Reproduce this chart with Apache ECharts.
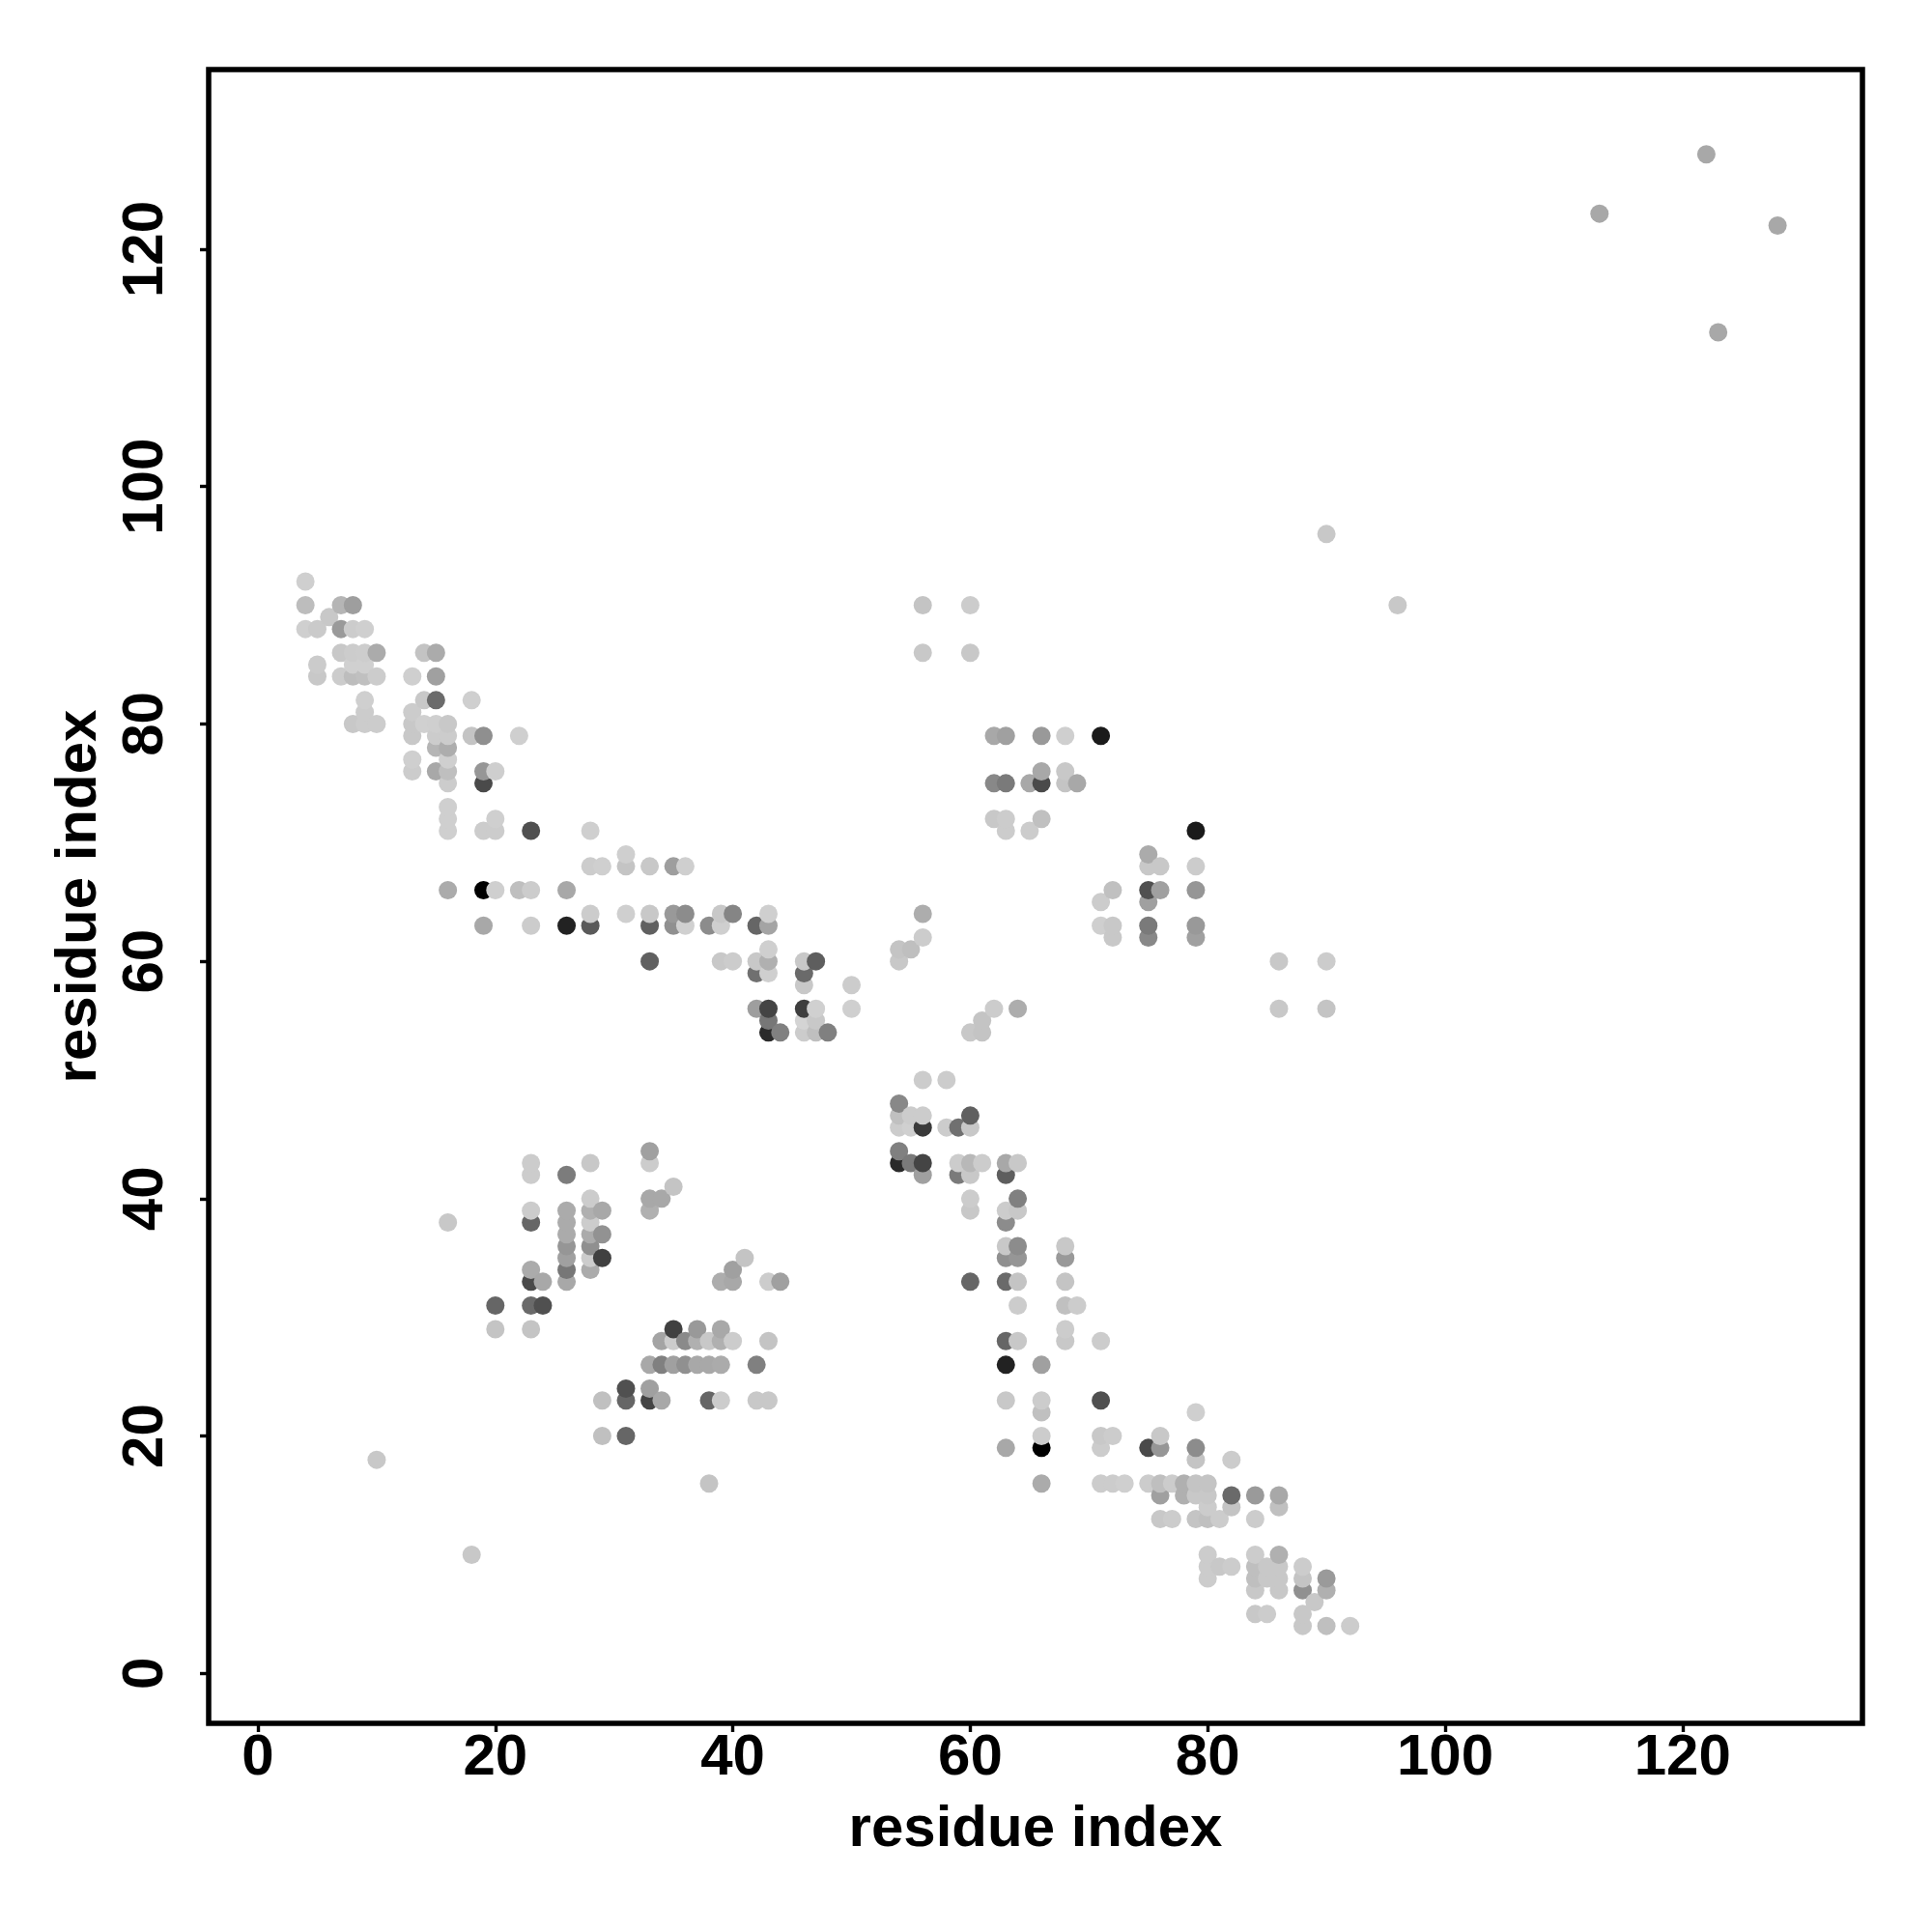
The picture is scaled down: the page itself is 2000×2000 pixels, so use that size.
<!DOCTYPE html>
<html>
<head>
<meta charset="utf-8">
<style>html,body{margin:0;padding:0;background:#fff}#c{width:2000px;height:2000px}</style>
<script src="https://cdn.jsdelivr.net/npm/echarts@6/dist/echarts.min.js"></script>
</head>
<body>
<div id="c"></div>
<script>
// [residue i, residue j, grey level]
var contactsLowerLeft = [
[4,92,0xcf],[4,90,0xbd],[7,90,0xb5],[8,90,0x9e],[6,89,0xc8],[4,88,0xcf],[5,88,0xca],[7,88,0x9a],[8,88,0xcc],[9,88,0xcf],
[7,86,0xc8],[8,86,0xcc],[9,86,0xcd],[10,86,0xab],[14,86,0xc3],[15,86,0xab],[5,85,0xcb],[8,85,0xd0],[9,85,0xd0],
[5,84,0xc8],[7,84,0xcc],[8,84,0xbd],[9,84,0xc0],[10,84,0xcc],[13,84,0xcf],[15,84,0xa0],
[9,82,0xcf],[14,82,0xc8],[15,82,0x6b],[18,82,0xcf],[9,81,0xcc],[13,81,0xcc],
[8,80,0xc8],[9,80,0xcc],[10,80,0xcc],[13,80,0xc8],[14,80,0xd0],[15,80,0xcf],[16,80,0xc8],
[13,79,0xc8],[15,79,0xcc],[16,79,0xcc],[18,79,0xc4],[19,79,0x8f],[22,79,0xcf],
[15,78,0xb5],[16,78,0xad],[13,77,0xcf],[16,77,0xcf],[13,76,0xcc],[15,76,0xa8],[16,76,0xbf],[19,76,0x96],[20,76,0xce],
[16,75,0xcc],[19,75,0x4a],[16,73,0xcf],[16,72,0xcf],[20,72,0xcf],[16,71,0xcf],[19,71,0xcc],[20,71,0xcc],[23,71,0x50],[28,71,0xcf],
[31,69,0xcf],[28,68,0xcc],[29,68,0xcf],[31,68,0xc4],[33,68,0xc8],[35,68,0x9e],[36,68,0xcf],
[16,66,0xab],[19,66,0x00],[20,66,0xcf],[22,66,0xbf],[23,66,0xcc],[26,66,0xa8],
[28,64,0xcc],[31,64,0xcf],[33,64,0xc8],[35,64,0x99],[36,64,0x8c],[39,64,0xc8],[40,64,0x85],[43,64,0xcf],
[19,63,0xa8],[23,63,0xcc],[26,63,0x22],[28,63,0x5a],[33,63,0x60],[35,63,0x90],[36,63,0xd0],[38,63,0x8c],[39,63,0xcf],[42,63,0x66],[43,63,0xa4],
[43,61,0xcf],[33,60,0x60],[39,60,0xc8],[40,60,0xcc],[42,60,0xc8],[43,60,0xb0],[46,60,0xc8],[47,60,0x5e],
[42,59,0x70],[43,59,0xcf],[46,59,0x6a],[46,58,0xc8],[50,58,0xcc],
[42,56,0x9e],[43,56,0x44],[46,56,0x3e],[47,56,0xd0],[50,56,0xcf],[43,55,0x77],[46,55,0xd4],[47,55,0xc8],
[43,54,0x2a],[44,54,0x80],[46,54,0xcc],[47,54,0xbf],[48,54,0x80]
];
var contactsUpperMiddle = [
[56,64,0xad],[56,62,0xcc],[54,61,0xc4],[55,61,0xbf],[54,60,0xc8],[62,56,0xcc],[64,56,0xad],[61,55,0xc4],[60,54,0xc8],[61,54,0xc4],
[56,90,0xc4],[60,90,0xcc],[56,86,0xc8],[60,86,0xc8],
[62,79,0xa8],[63,79,0xa0],[66,79,0x99],[68,79,0xcf],[71,79,0x1a],[66,76,0xa8],[68,76,0xc8],
[62,75,0x88],[63,75,0x7a],[65,75,0xa8],[66,75,0x4a],[68,75,0xc4],[69,75,0xa8],[62,72,0xc8],[63,72,0xcc],[66,72,0xc0],[63,71,0xcc],[65,71,0xcc],
[79,71,0x1a],[75,69,0xab],[75,68,0xc8],[76,68,0xc8],[79,68,0xcc],[72,66,0xc0],[75,66,0x50],[76,66,0xa0],[79,66,0x96],[71,65,0xcc],[75,65,0xa0],
[71,63,0xcf],[72,63,0xc8],[75,63,0x7a],[79,63,0x99],[72,62,0xc8],[75,62,0x88],[79,62,0xa0],
[86,60,0xc8],[90,60,0xcc],[86,56,0xc8],[90,56,0xc4],[90,96,0xc8],[96,90,0xc8],
[113,123,0xa8],[122,128,0xa8],[123,113,0xa8],[128,122,0xa8]
];
var contactsCentreDown = [
[56,50,0xcc],[58,50,0xcc],[54,48,0x88],[54,47,0xc0],[55,47,0xcc],[56,47,0xcc],[60,47,0x60],
[54,46,0xcc],[55,46,0xd0],[56,46,0x3a],[58,46,0xcc],[59,46,0x70],[60,46,0xc8],[54,44,0x80],
[54,43,0x2a],[55,43,0x7a],[56,43,0x44],[59,43,0xcc],[60,43,0xb8],[61,43,0xcc],[63,43,0xa8],[64,43,0xc8],
[56,42,0xa0],[59,42,0x7a],[60,42,0xc8],[63,42,0x5e],[60,40,0xcc],[64,40,0x80],[60,39,0xc8],[63,39,0xcc],[64,39,0xc8],[63,38,0x8c],
[63,36,0xc8],[64,36,0x8c],[68,36,0xc8],[63,35,0x90],[64,35,0x96],[68,35,0x99],[60,33,0x66],[63,33,0x6a],[64,33,0xc4],[68,33,0xc4],
[64,31,0xcc],[68,31,0xc0],[69,31,0xcc],[68,29,0xcc],[63,28,0x66],[64,28,0xc8],[68,28,0xc8],[71,28,0xcc],[63,26,0x22],[66,26,0xa0],
[63,23,0xc8],[66,23,0xcc],[71,23,0x50],[66,22,0xc0],[79,22,0xcf],[66,20,0xcc],[71,20,0xc8],[72,20,0xcc],[76,20,0xc8],
[63,19,0xa8],[66,19,0x00],[71,19,0xcc],[75,19,0x4a],[76,19,0x96],[79,19,0x8c],[79,18,0xc4],[82,18,0xcc],
[66,16,0xab],[71,16,0xcc],[72,16,0xcc],[73,16,0xcf],[75,16,0xcc],[76,16,0xbf],[77,16,0xcc],[78,16,0xb0],[79,16,0xc4],[80,16,0xc4],
[76,15,0xa0],[78,15,0xb0],[79,15,0xc8],[80,15,0xc8],[82,15,0x6a],[84,15,0x9a],[86,15,0xa8],[80,14,0xcc],[82,14,0xc4],[86,14,0xc0],
[76,13,0xc8],[77,13,0xcc],[79,13,0xc4],[80,13,0xc0],[81,13,0xcc],[84,13,0xcc],[80,10,0xcc],[84,10,0xcc],[86,10,0xb0],
[80,9,0xcc],[81,9,0xc8],[82,9,0xcc],[84,9,0xbf],[85,9,0xc8],[86,9,0xc8],[88,9,0xcc],
[80,8,0xcc],[84,8,0xbf],[85,8,0xc8],[86,8,0xc8],[88,8,0xc4],[90,8,0x9a],[84,7,0xc8],[86,7,0xc8],[88,7,0x90],[90,7,0xb0],
[89,6,0xc8],[84,5,0xc8],[85,5,0xcc],[88,5,0xc8],[88,4,0xc8],[90,4,0xbf],[92,4,0xcc]
];
var contactsBottomLeft = [
[33,44,0xa0],[23,43,0xcc],[28,43,0xc8],[33,43,0xcc],[23,42,0xcc],[26,42,0x7c],[35,41,0xc4],[28,40,0xcc],[33,40,0xa8],[34,40,0xa8],
[23,39,0xcc],[26,39,0xab],[28,39,0xb0],[29,39,0xa8],[33,39,0xb0],[23,38,0x66],[26,38,0xab],[28,38,0xcc],[26,37,0xab],[28,37,0xab],[29,37,0x92],
[26,36,0x96],[28,36,0x90],[26,35,0xa0],[28,35,0xcc],[29,35,0x40],[41,35,0xc4],[23,34,0xab],[26,34,0x77],[28,34,0xab],[40,34,0xa0],
[23,33,0x4a],[24,33,0xa8],[26,33,0xa8],[39,33,0xad],[40,33,0xa8],[43,33,0xcc],[44,33,0xa0],[20,31,0x66],[23,31,0x6a],[24,31,0x50],[20,29,0xc4],[23,29,0xc4],
[35,29,0x40],[37,29,0x99],[39,29,0xa8],[34,28,0xa4],[35,28,0xcc],[36,28,0x8a],[37,28,0xb0],[38,28,0xc8],[39,28,0xb0],[40,28,0xcc],[43,28,0xc4],
[33,26,0xa8],[34,26,0x80],[35,26,0xa0],[36,26,0x90],[37,26,0xa8],[38,26,0xa8],[39,26,0xab],[42,26,0x80],[31,24,0x50],[33,24,0xa0],
[29,23,0xc0],[31,23,0x66],[33,23,0x44],[34,23,0xa8],[38,23,0x66],[39,23,0xcc],[42,23,0xc8],[43,23,0xc8],[29,20,0xc0],[31,20,0x66],
[16,38,0xc8],[10,18,0xc8],[18,10,0xc8],[38,16,0xc4]
];
var tickValues = [0, 20, 40, 60, 80, 100, 120];
var axisTitle = 'residue index';

var contacts = contactsLowerLeft.concat(contactsUpperMiddle, contactsCentreDown, contactsBottomLeft)
  .sort(function (a, b) { return a[0] - b[0] || a[1] - b[1]; });

var font = '"Liberation Sans", Arial, sans-serif';
function makeAxis(min, max, nameGap, rotate, labelMargin) {
  return {
    type: 'value', min: min, max: max, name: axisTitle, nameLocation: 'middle', nameGap: nameGap,
    nameTextStyle: {color: '#000', fontFamily: font, fontWeight: 'bold', fontSize: 60},
    splitLine: {show: false},
    axisLine: {show: false, onZero: false},
    axisTick: {show: true, length: 9, customValues: tickValues, lineStyle: {color: '#000', width: 3.4}},
    axisLabel: {show: true, customValues: tickValues, rotate: rotate, margin: labelMargin, color: '#000',
      fontFamily: font, fontWeight: 'bold', fontSize: 60, hideOverlap: false, showMinLabel: true, showMaxLabel: true}
  };
}
var chart = echarts.init(document.getElementById('c'), null, {renderer: 'canvas'});
chart.setOption({
  animation: false,
  backgroundColor: '#fff',
  grid: {left: 216, top: 72, width: 1712, height: 1712, show: true, backgroundColor: 'transparent',
    borderColor: '#000', borderWidth: 5.5},
  xAxis: makeAxis(-4.15, 135.15, 80, 0, 6),
  yAxis: makeAxis(-4.21, 135.14, 104, 90, 35),
  series: [{
    type: 'scatter', symbol: 'circle', symbolSize: 19, silent: true,
    itemStyle: {opacity: 1},
    data: contacts.map(function (c) {
      return {value: [c[0], c[1]], itemStyle: {opacity: 1, color: 'rgb(' + c[2] + ',' + c[2] + ',' + c[2] + ')'}};
    })
  }]
});
</script>
</body>
</html>
